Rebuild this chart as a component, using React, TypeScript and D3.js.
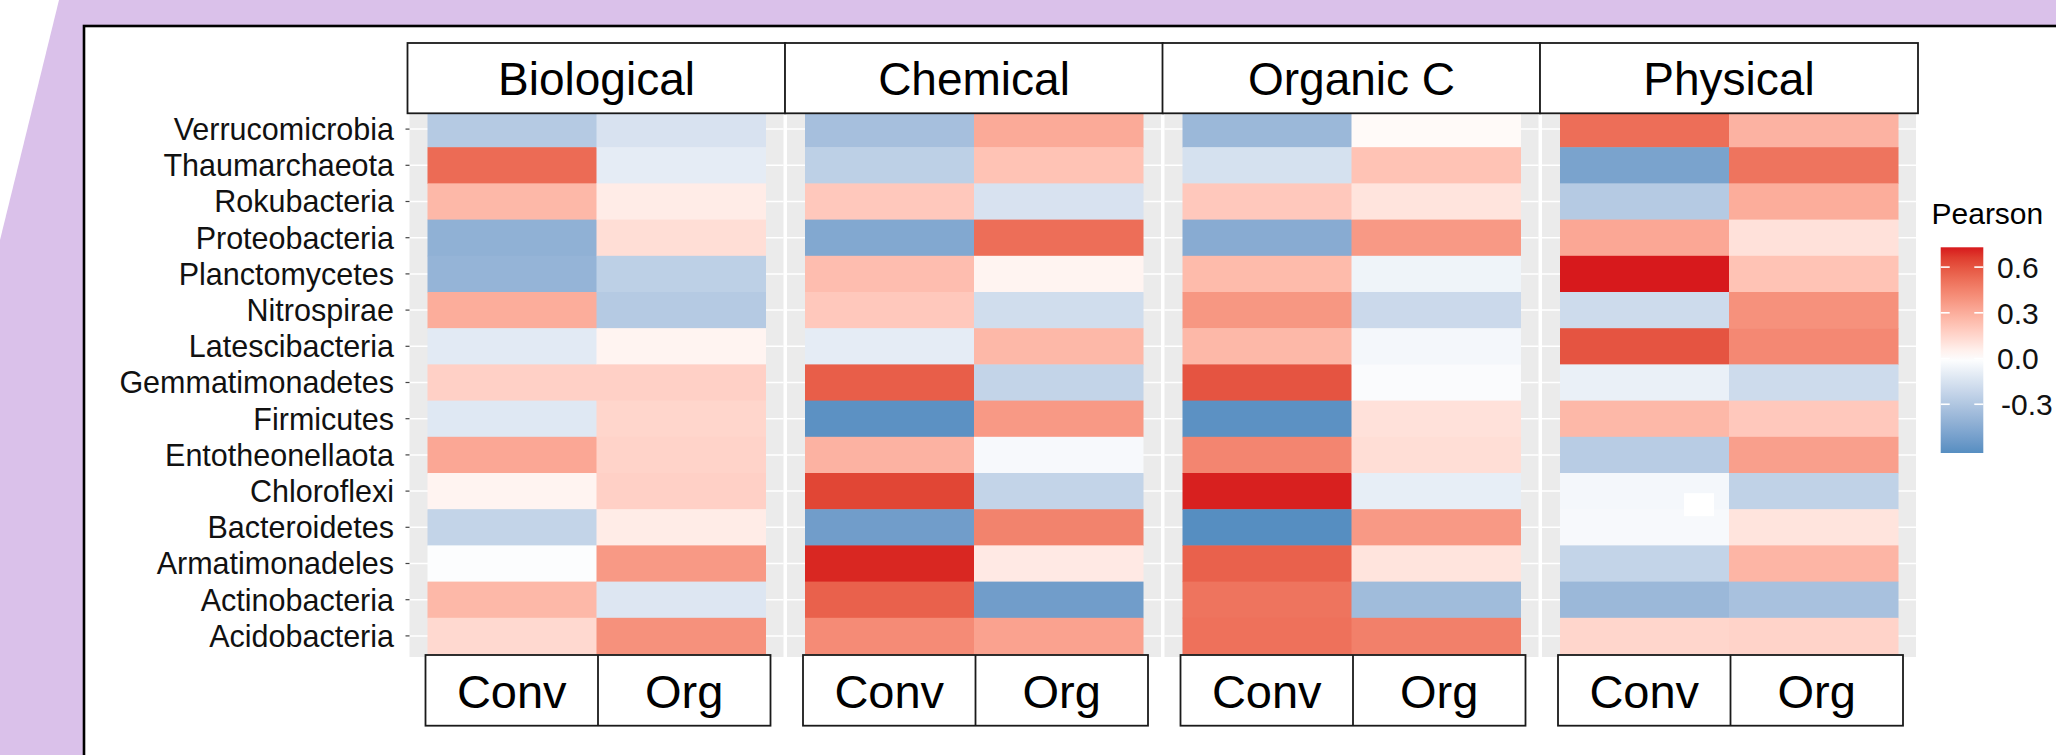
import React, { useEffect } from 'react';
import * as d3 from 'd3';

// ---------------- DATA ----------------
const phyla = [
  'Verrucomicrobia', 'Thaumarchaeota', 'Rokubacteria', 'Proteobacteria', 'Planctomycetes',
  'Nitrospirae', 'Latescibacteria', 'Gemmatimonadetes', 'Firmicutes', 'Entotheonellaota',
  'Chloroflexi', 'Bacteroidetes', 'Armatimonadeles', 'Actinobacteria', 'Acidobacteria',
];
const facets = ['Biological', 'Chemical', 'Organic C', 'Physical'];
const systems = ['Conv', 'Org'];
const legendTicks = [0.6, 0.3, 0.0, -0.3];
const legendTickLabels = ['0.6', '0.3', '0.0', '-0.3'];
const legendTitle = 'Pearson';

const biologicalConv = [-0.28, 0.53, 0.26, -0.42, -0.40, 0.30, -0.11, 0.17, -0.12, 0.32, 0.04, -0.23, -0.01, 0.26, 0.14];
const biologicalOrg = [-0.15, -0.10, 0.07, 0.12, -0.25, -0.28, 0.04, 0.17, 0.15, 0.16, 0.17, 0.07, 0.37, -0.13, 0.40];
const chemicalConv = [-0.34, -0.25, 0.20, -0.47, 0.24, 0.20, -0.10, 0.57, -0.60, 0.28, 0.64, -0.53, 0.71, 0.56, 0.42];
const chemicalOrg = [0.31, 0.22, -0.15, 0.52, 0.04, -0.18, 0.26, -0.23, 0.37, -0.03, -0.23, 0.45, 0.08, -0.53, 0.34];
const organicCConv = [-0.38, -0.16, 0.20, -0.45, 0.25, 0.38, 0.26, 0.60, -0.60, 0.44, 0.72, -0.62, 0.56, 0.50, 0.51];
const organicCOrg = [0.02, 0.22, 0.10, 0.37, -0.06, -0.20, -0.04, -0.02, 0.11, 0.12, -0.09, 0.37, 0.10, -0.36, 0.46];
const physicalConv = [0.52, -0.50, -0.28, 0.32, 0.73, -0.19, 0.60, -0.08, 0.26, -0.27, -0.04, -0.03, -0.23, -0.38, 0.15];
const physicalOrg = [0.28, 0.50, 0.30, 0.11, 0.22, 0.40, 0.43, -0.19, 0.20, 0.35, -0.24, 0.10, 0.27, -0.33, 0.16];

const seriesByFacet: Record<string, number[][]> = {
  'Biological': [biologicalConv, biologicalOrg],
  'Chemical': [chemicalConv, chemicalOrg],
  'Organic C': [organicCConv, organicCOrg],
  'Physical': [physicalConv, physicalOrg],
};

type Cell = { facet: string; system: string; phylum: string; value: number };
const cells: Cell[] = [];
facets.forEach((f) => {
  systems.forEach((s, si) => {
    phyla.forEach((p, pi) => {
      cells.push({ facet: f, system: s, phylum: p, value: seriesByFacet[f][si][pi] });
    });
  });
});

// ---------------- STYLE / LAYOUT ----------------
const W = 2056;
const H = 755;
const FONT = '"Liberation Sans", Arial, Helvetica, sans-serif';
const PURPLE = '#DAC1EA';
const PANEL_BG = '#EBEBEB';
const LOW = '#2C7BB6';
const HIGH = '#D7191C';

const ROW_H = 36.2;
const TILES_BOTTOM = 654;
const PANEL_TOP = 113;
const STRIP_TOP = 43;
const STRIP_BOTTOM = 113.3;
const BOTTOM_STRIP_TOP = 655;
const BOTTOM_STRIP_BOTTOM = 725.7;
const PAD = 18;
const TILE_W = 338;

export default function App() {
  useEffect(() => {
    document.body.style.margin = '0';
  }, []);

  const facetX = d3.scaleBand<string>()
    .domain(facets)
    .range([427.5, 427.5 + 4 * TILE_W + 3 * 39.5])
    .paddingInner(39.5 / (TILE_W + 39.5))
    .paddingOuter(0);

  const sysX = d3.scaleBand<string>().domain(systems).range([0, facetX.bandwidth()]);

  const y = d3.scaleBand<string>()
    .domain(phyla)
    .range([TILES_BOTTOM - phyla.length * ROW_H, TILES_BOTTOM]);

  const [vmin, vmax] = d3.extent(cells, (d) => d.value) as [number, number];
  const maxAbs = Math.max(Math.abs(vmin), Math.abs(vmax));
  const color = d3.scaleLinear<string>()
    .domain([-maxAbs, 0, maxAbs])
    .range([LOW, '#ffffff', HIGH])
    .interpolate(d3.interpolateLab);

  // legend
  const barX = 1940.7;
  const barW = 42.6;
  const barTop = 247.3;
  const barBottom = 453;
  const legY = d3.scaleLinear().domain([vmin, vmax]).range([barBottom, barTop]);
  const gradStops = d3.range(0, 1.0001, 0.05).map((t) => {
    const v = vmin + t * (vmax - vmin);
    return { offset: t, color: color(v) };
  });

  // artifact white square in Physical / Conv
  const physX = (facetX('Physical') as number) + (sysX('Conv') as number);

  return (
    <svg width={W} height={H} style={{ display: 'block', position: 'absolute', left: 0, top: 0 }} fontFamily={FONT}>
      <defs>
        <linearGradient id="pearsonGrad" x1="0" y1="1" x2="0" y2="0">
          {gradStops.map((s, i) => (
            <stop key={i} offset={s.offset} stopColor={s.color} />
          ))}
        </linearGradient>
        <clipPath id="panelClip">
          <rect x={0} y={PANEL_TOP} width={W} height={H} />
        </clipPath>
      </defs>

      {/* slide background */}
      <rect x={0} y={0} width={W} height={H} fill={PURPLE} />
      <polygon points="0,0 59,0 0,240" fill="#ffffff" />
      <rect x={84} y={26} width={W + 40} height={H + 40} fill="#ffffff" stroke="#000" strokeWidth={2.6} />

      {/* panels */}
      {facets.map((f) => {
        const x0 = facetX(f) as number;
        return (
          <g key={f}>
            <rect x={x0 - PAD} y={PANEL_TOP} width={TILE_W + 2 * PAD} height={657 - PANEL_TOP} fill={PANEL_BG} />
            {phyla.map((p) => {
              const yc = (y(p) as number) + y.bandwidth() / 2;
              return (
                <line key={p} x1={x0 - PAD} x2={x0 + TILE_W + PAD} y1={yc} y2={yc} stroke="#ffffff" strokeWidth={1.5} />
              );
            })}
          </g>
        );
      })}

      {/* tiles */}
      <g clipPath="url(#panelClip)">
        {cells.map((c, i) => (
          <rect
            key={i}
            x={(facetX(c.facet) as number) + (sysX(c.system) as number)}
            y={y(c.phylum) as number}
            width={sysX.bandwidth() + 0.5}
            height={y.bandwidth() + 0.5}
            fill={color(c.value)}
          />
        ))}
      </g>

      {/* small white artifact */}
      <rect x={physX + 124} y={(y('Bacteroidetes') as number) - 16} width={30} height={23} fill="#ffffff" />

      {/* y axis ticks & labels */}
      {phyla.map((p) => {
        const yc = (y(p) as number) + y.bandwidth() / 2;
        return (
          <g key={p}>
            <line x1={405.5} x2={409.5} y1={yc} y2={yc} stroke="#444" strokeWidth={1.2} />
            <text x={394} y={yc} dy="0.36em" textAnchor="end" fontSize={30.5} fill="#111">{p}</text>
          </g>
        );
      })}

      {/* top strips */}
      {facets.map((f) => {
        const x0 = (facetX(f) as number) - 20;
        const x1 = (facetX(f) as number) + TILE_W + 20;
        return (
          <g key={f}>
            <rect x={x0} y={STRIP_TOP} width={x1 - x0} height={STRIP_BOTTOM - STRIP_TOP} fill="#ffffff" stroke="#1a1a1a" strokeWidth={1.8} />
            <text x={(x0 + x1) / 2} y={95} textAnchor="middle" fontSize={46} fill="#000">{f}</text>
          </g>
        );
      })}

      {/* bottom strips */}
      {facets.map((f) => {
        const x0 = (facetX(f) as number) - 2;
        const x1 = (facetX(f) as number) + TILE_W + 5;
        const mid = (facetX(f) as number) + 170.5;
        return (
          <g key={f}>
            <rect x={x0} y={BOTTOM_STRIP_TOP} width={x1 - x0} height={BOTTOM_STRIP_BOTTOM - BOTTOM_STRIP_TOP} fill="#ffffff" stroke="#1a1a1a" strokeWidth={1.8} />
            <line x1={mid} x2={mid} y1={BOTTOM_STRIP_TOP} y2={BOTTOM_STRIP_BOTTOM} stroke="#1a1a1a" strokeWidth={1.8} />
            {systems.map((s, si) => {
              const cx = si === 0 ? (x0 + mid) / 2 : (mid + x1) / 2;
              return (
                <text key={s} x={cx} y={708} textAnchor="middle" fontSize={47} fill="#000">{s}</text>
              );
            })}
          </g>
        );
      })}

      {/* legend */}
      <text x={1931.5} y={224.3} fontSize={30} fill="#000">{legendTitle}</text>
      <rect x={barX} y={barTop} width={barW} height={barBottom - barTop} fill="url(#pearsonGrad)" />
      {legendTicks.map((t, i) => {
        const ty = legY(t);
        return (
          <g key={t}>
            <line x1={barX} x2={barX + 9} y1={ty} y2={ty} stroke="#ffffff" strokeWidth={1.6} />
            <line x1={barX + barW - 9} x2={barX + barW} y1={ty} y2={ty} stroke="#ffffff" strokeWidth={1.6} />
            <text x={t < 0 ? 2001 : 1997} y={ty} dy="0.36em" fontSize={30} fill="#111">{legendTickLabels[i]}</text>
          </g>
        );
      })}
    </svg>
  );
}
